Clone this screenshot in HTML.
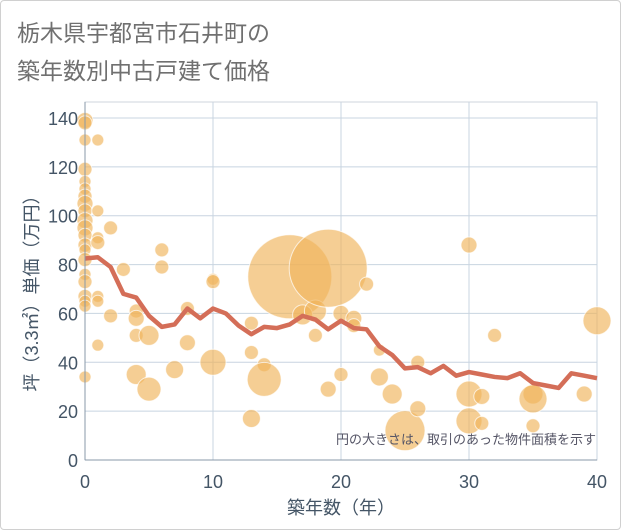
<!DOCTYPE html>
<html><head><meta charset="utf-8">
<style>
body{margin:0;background:#fff;}
#card{position:absolute;left:0;top:0;width:619px;height:528px;border:1px solid #d0d0d0;border-radius:4px;background:#fff;}
.t{font-family:"Liberation Sans","Noto Sans CJK JP",sans-serif;}
</style></head>
<body>
<div id="card"></div>
<svg id="chart" width="621" height="530" style="position:absolute;left:0;top:0">
<text class="t" x="17" y="41" font-size="23" fill="#707070">栃木県宇都宮市石井町の</text>
<text class="t" x="17" y="79" font-size="23" fill="#707070">築年数別中古戸建て価格</text>
<g id="grid"></g>
<g id="bubbles"></g>
<g id="line"></g>
<g id="axes"></g>
<text class="t" x="596" y="444" font-size="13" fill="#556" text-anchor="end">円の大きさは、取引のあった物件面積を示す</text>
<text class="t" x="341" y="514" font-size="18" fill="#445566" text-anchor="middle">築年数（年）</text>
<text class="t" transform="translate(38,289) rotate(-90)" font-size="18" fill="#445566" text-anchor="middle">坪（3.3㎡）単価（万円）</text>
</svg>
<script>
const xTicks=[0,10,20,30,40];
const yTicks=[0,20,40,60,80,100,120,140];
const lineYears=[0,1,2,3,4,5,6,7,8,9,10,11,12,13,14,15,16,17,18,19,20,21,22,23,24,25,26,27,28,29,30,31,32,33,34,35,36,37,38,39,40];
const linePrices=[82.5,83,79,68,66.5,59,54.5,55.5,62,58,62,60,55,51.5,54.5,54,55.5,59,57.5,53.5,57,54,53.5,46.5,43,37.5,38,35.5,38.5,34.5,36,35,34,33.5,35.5,31.5,30.5,29.5,35.5,34.5,33.5];
const bubbleYears=[0,0,0,0,0,0,0,0,0,0,0,0,0,0,0,0,0,0,0,0,0,1,1,1,1,1,1,1,2,2,3,4,4,4,4,5,5,6,6,7,8,8,10,10,10,13,13,13,14,14,16,17,18,18,19,19,20,20,21,21,22,23,23,24,25,26,26,30,30,30,31,31,32,35,35,35,39,40];
const bubblePrices=[139,138,131,119,114,111,108,105,102,98,95,92,88,86,82,76,73,67,65,63,34,131,102,91,89,67,65,47,95,59,78,61,58,51,35,51,29,86,79,37,62,48,74,73,40,56,44,17,39,33,75,59.4,61,51,78.5,29,60,35,58,55,72,34,45,27,12,40,21,88,27,16,26,15,51,27,25,14,27,57];
const bubbleRadii=[8,7,6,7,6,6,7,8,7,8,8,7,7,6,7,6,7,7,6,6,6,6,6,6,7,6,6,6,7,7,7,7,8,7,10,10,12,7,7,9,7,8,6,7,13,7,7,9,7,17,42,10,11,7,39,8,8,7,8,7,7,9,6,10,20,7,8,8,13,13,8,7,7,10,14,7,8,14];
const X0=85,X1=597,Y0=460,Y1=118;
const xs=v=>X0+(v-0)/(40-0)*(X1-X0);
const ys=v=>Y0-(v-0)/(140-0)*(Y0-Y1);
const NS="http://www.w3.org/2000/svg";
function mk(tag,attrs,parent){const e=document.createElementNS(NS,tag);for(const k in attrs)e.setAttribute(k,attrs[k]);parent.appendChild(e);return e;}
const grid=document.getElementById('grid'),axes=document.getElementById('axes');
mk('rect',{x:X0,y:102,width:X1-X0,height:Y0-102,fill:'none',stroke:'#cfd6de'},grid);
xTicks.forEach(t=>{
 const l=mk('line',{x1:xs(t),x2:xs(t),y1:102,y2:Y0,stroke:'#c8d4e0','stroke-width':1},grid);
 
 
 const tx=mk('text',{x:xs(t),y:488,'font-size':18,fill:'#445566','text-anchor':'middle',class:'t'},axes);
 tx.textContent=t;
 
 
});
yTicks.forEach(t=>{
 const l=mk('line',{x1:X0,x2:X1,y1:ys(t),y2:ys(t),stroke:'#c8d4e0','stroke-width':1},grid);
 
 
 const tx=mk('text',{x:78,y:ys(t)+7,'font-size':18,fill:'#445566','text-anchor':'end',class:'t'},axes);
 tx.textContent=t;
 
 
});
mk('line',{x1:X0,x2:X0,y1:102,y2:Y0,stroke:'#8899aa'},axes);
mk('line',{x1:X0,x2:X1,y1:Y0,y2:Y0,stroke:'#8899aa'},axes);
const bg=document.getElementById('bubbles');
bubbleYears.forEach((yr,i)=>{
 const c=mk('circle',{cx:xs(yr),cy:ys(bubblePrices[i]),r:bubbleRadii[i],fill:'#f0b45a','fill-opacity':0.65,stroke:'#fff','stroke-opacity':0.7,'stroke-width':1},bg);
 
 
});
const lg=document.getElementById('line');
const p=mk('polyline',{points:lineYears.map((yr,i)=>xs(yr)+','+ys(linePrices[i])).join(' '),fill:'none',stroke:'#d46e58','stroke-width':4.5,'stroke-linejoin':'round'},lg);


</script>
</body></html>
